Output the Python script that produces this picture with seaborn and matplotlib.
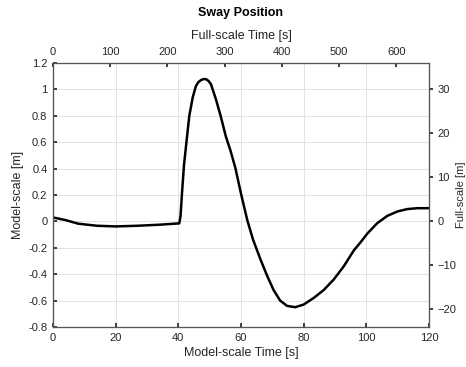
import numpy as np
import pandas as pd
import matplotlib
matplotlib.use("Agg")
import matplotlib.pyplot as plt
import seaborn as sns

# model-scale sway position
time_model = [0, 4, 8, 14, 20, 27, 34, 40.3, 40.7, 41.2, 41.8, 42.7, 43.5, 44.6,
              45.6, 46.4, 47.2, 48.0, 48.8, 49.6, 50.4, 52, 53.6, 55.2, 56.6, 58.2,
              60, 62, 63.8, 66.2, 68.3, 70.4, 72.5, 74.7, 77.3, 80, 83.2, 86.4,
              89.6, 92.8, 96, 98.1, 100.4, 103.5, 106.7, 109.9, 113, 116.2, 120]
sway_model = [0.03, 0.01, -0.017, -0.033, -0.038, -0.033, -0.025, -0.015, 0.04,
              0.225, 0.425, 0.625, 0.8, 0.94, 1.025, 1.055, 1.07, 1.078, 1.078,
              1.065, 1.04, 0.925, 0.79, 0.64, 0.54, 0.405, 0.21, 0.01, -0.135,
              -0.287, -0.41, -0.52, -0.6, -0.64, -0.65, -0.63, -0.58, -0.52,
              -0.44, -0.34, -0.22, -0.16, -0.09, -0.013, 0.042, 0.075, 0.093,
              0.1, 0.1]

scale = 30  # Froude scale
x_ticks = [0, 20, 40, 60, 80, 100, 120]
y_ticks = [-0.8, -0.6, -0.4, -0.2, 0, 0.2, 0.4, 0.6, 0.8, 1, 1.2]
top_ticks = [0, 100, 200, 300, 400, 500, 600]
right_ticks = [-20, -10, 0, 10, 20, 30]

df = pd.DataFrame({"t": time_model, "y": sway_model})

sns.set_theme(style="whitegrid")
plt.rcParams['font.family'] = ['Liberation Sans', 'DejaVu Sans']
txt = '#262626'

fig = plt.figure(figsize=(4.66, 3.67), dpi=100)
ax = fig.add_axes([53 / 466, 1 - 327 / 367, (429 - 53) / 466, (327 - 63) / 367])
ax.set_facecolor('white')

sns.lineplot(data=df, x="t", y="y", ax=ax, color='black', linewidth=1.8)

ax.set_xlim(0, 120)
ax.set_ylim(-0.8, 1.2)
ax.set_xticks(x_ticks)
ax.set_yticks(y_ticks)
ax.set_yticklabels([f"{v:g}" for v in y_ticks])
ax.grid(True, color='#e3e3e3', linewidth=0.7)
ax.tick_params(direction='in', length=3, labelsize=8, colors=txt, pad=4,
               left=True, bottom=True)
ax.set_xlabel("Model-scale Time [s]", fontsize=9, color=txt, labelpad=3)
ax.set_ylabel("Model-scale [m]", fontsize=9, color=txt, labelpad=3)
for s in ax.spines.values():
    s.set_color('#555555')
    s.set_linewidth(0.8)

# full-scale time axis on top
axt = ax.twiny()
axt.set_xlim(0, 120 * np.sqrt(scale))
axt.set_xticks(top_ticks)
axt.grid(False)
axt.tick_params(direction='in', length=3, labelsize=8, colors=txt, pad=4,
                top=True)
axt.set_xlabel("Full-scale Time [s]", fontsize=9, color=txt, labelpad=6)
axt.set_title("Sway Position", fontsize=9, fontweight='bold', color='black', pad=10)

# full-scale sway axis on right
axr = ax.twinx()
axr.set_ylim(-0.8 * scale, 1.2 * scale)
axr.set_yticks(right_ticks)
axr.grid(False)
axr.tick_params(direction='out', length=3, labelsize=8, colors=txt, pad=3,
                right=True)
axr.set_ylabel("Full-scale [m]", fontsize=8, color=txt, rotation=90, labelpad=0)
for a in (axt, axr):
    for s in a.spines.values():
        s.set_color('#555555')
        s.set_linewidth(0.8)

fig.savefig("out.png", dpi=100)
